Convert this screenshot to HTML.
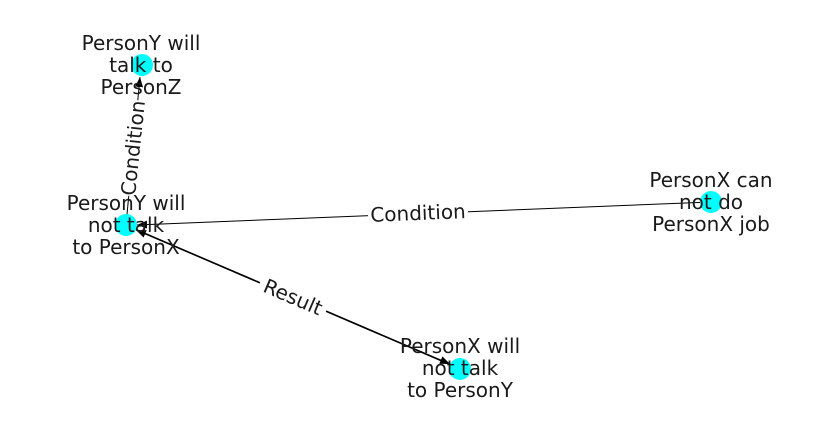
<!DOCTYPE html>
<html><head><meta charset="utf-8"><style>
html,body{margin:0;padding:0;background:#fff;}
svg{display:block;}
text{font-family:"DejaVu Sans","Liberation Sans",sans-serif;font-size:20px;fill:#1a1a1a;}
</style></head><body>
<svg width="837" height="434" viewBox="0 0 837 434" xmlns="http://www.w3.org/2000/svg">
<defs>
<marker id="ar" viewBox="0 0 10 10" refX="10" refY="5" markerWidth="10" markerHeight="10" markerUnits="userSpaceOnUse" orient="auto">
<path d="M0,1 L10,5 L0,9 Z" fill="#000"/>
</marker>
</defs>
<line x1="126" y1="225" x2="140" y2="77" stroke="#000" stroke-width="1" marker-end="url(#ar)"/>
<line x1="711" y1="202" x2="137" y2="225" stroke="#000" stroke-width="1" marker-end="url(#ar)"/>
<line x1="460" y1="369" x2="136" y2="230" stroke="#000" stroke-width="1" marker-end="url(#ar)"/>
<line x1="126" y1="225" x2="450" y2="364" stroke="#000" stroke-width="1" marker-end="url(#ar)"/>
<circle cx="142" cy="65" r="11" fill="#00ffff"/>
<circle cx="126" cy="225" r="11" fill="#00ffff"/>
<circle cx="711" cy="202" r="11" fill="#00ffff"/>
<circle cx="460" cy="369" r="11" fill="#00ffff"/>
<g transform="translate(133,148) rotate(-84)">
<rect x="-48" y="-12" width="96" height="24" fill="#fff"/>
<text x="0" y="7" text-anchor="middle">Condition</text>
</g>
<g transform="translate(418,213) rotate(-2.3)">
<rect x="-50" y="-12" width="100" height="24" fill="#fff"/>
<text x="0" y="7" text-anchor="middle">Condition</text>
</g>
<g transform="translate(293,297) rotate(23.2)">
<rect x="-36" y="-12" width="72" height="24" fill="#fff"/>
<text x="0" y="7" text-anchor="middle">Result</text>
</g>
<text text-anchor="middle"><tspan x="141" y="50">PersonY will</tspan><tspan x="141" y="72">talk to</tspan><tspan x="141" y="94">PersonZ</tspan></text>
<text text-anchor="middle"><tspan x="126" y="210">PersonY will</tspan><tspan x="126" y="232">not talk</tspan><tspan x="126" y="254">to PersonX</tspan></text>
<text text-anchor="middle"><tspan x="711" y="187">PersonX can</tspan><tspan x="711" y="209">not do</tspan><tspan x="711" y="231">PersonX job</tspan></text>
<text text-anchor="middle"><tspan x="460" y="353">PersonX will</tspan><tspan x="460" y="375">not talk</tspan><tspan x="460" y="397">to PersonY</tspan></text>
</svg>
</body></html>
